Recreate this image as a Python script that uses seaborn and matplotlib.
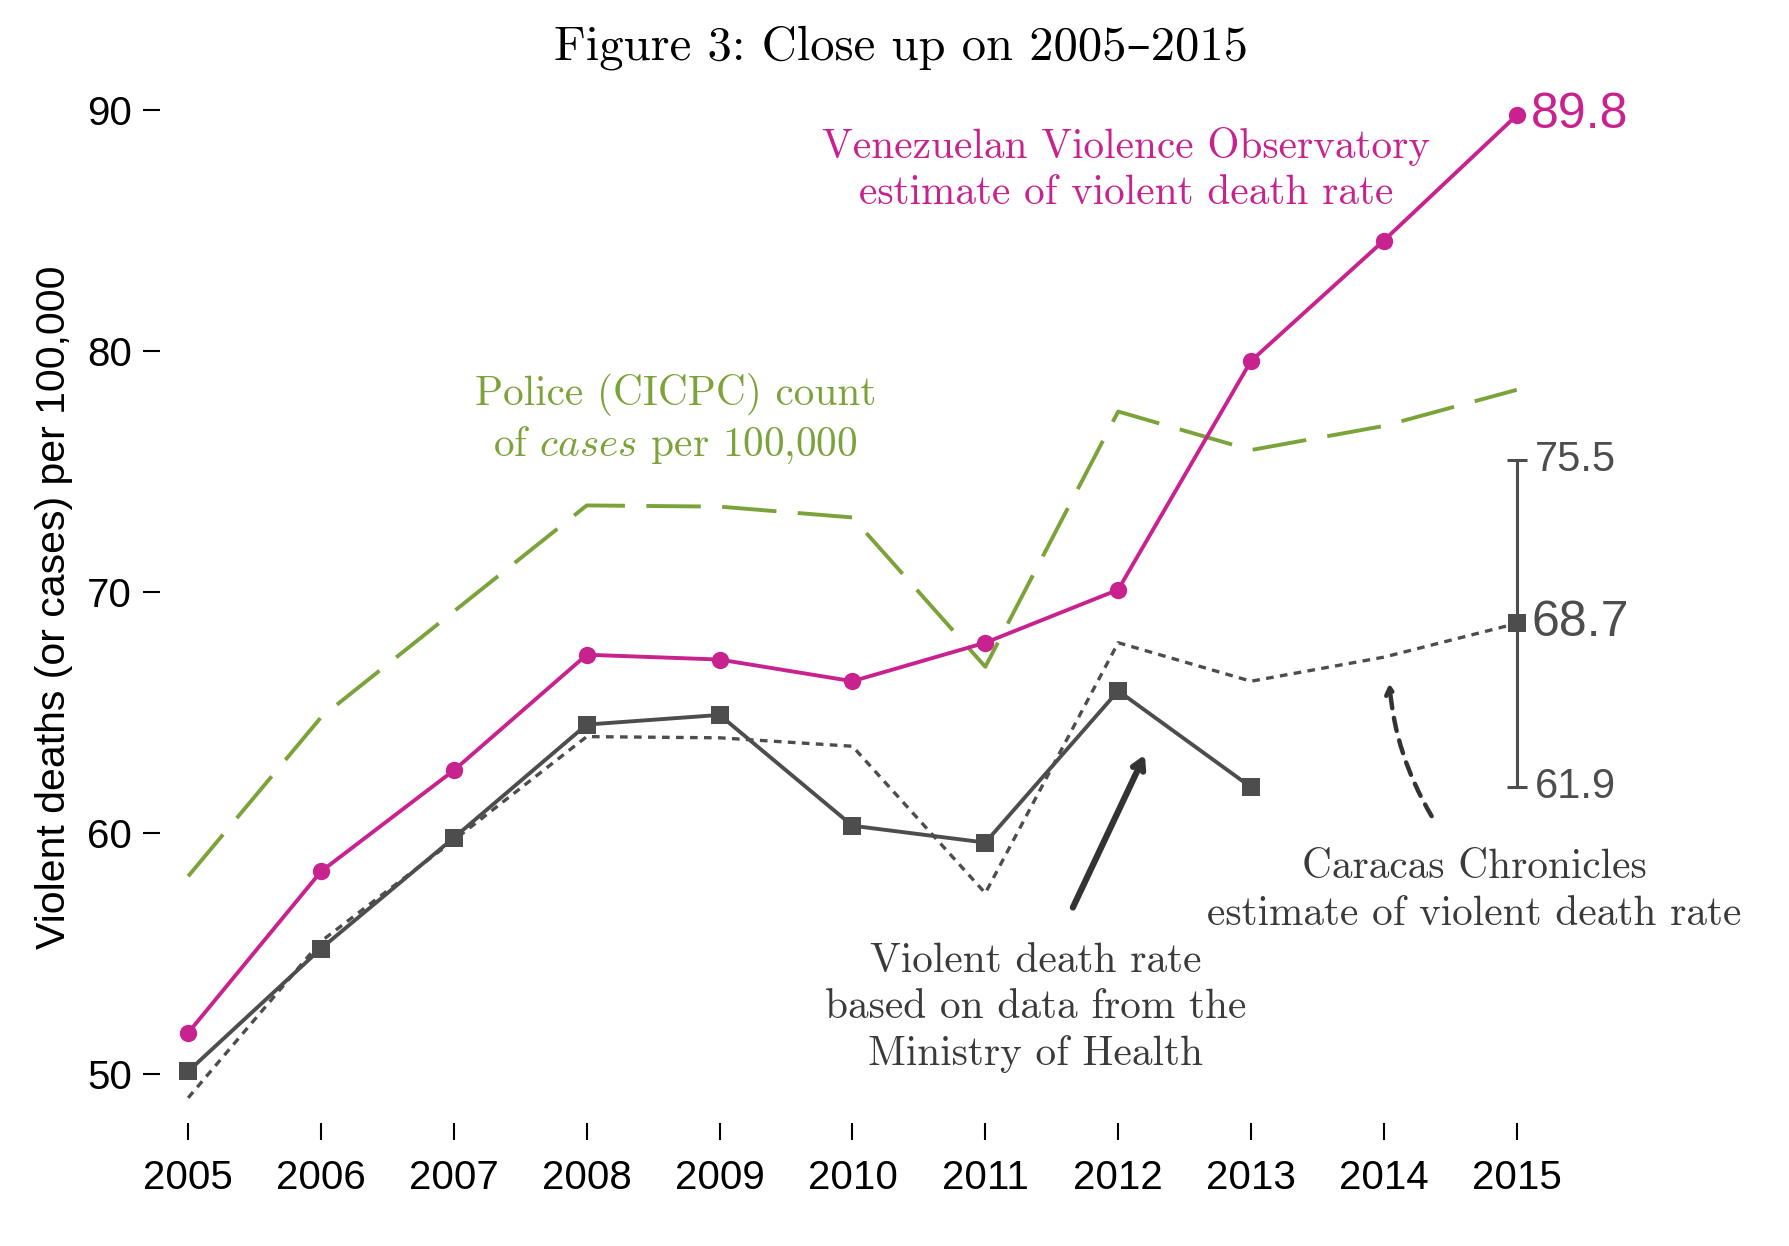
import matplotlib
matplotlib.use("Agg")
import matplotlib.pyplot as plt
import seaborn as sns
import pandas as pd

# %%
years = list(range(2005, 2016))
ovv_rate = [51.7, 58.4, 62.6, 67.4, 67.2, 66.3, 67.9, 70.1, 79.6, 84.6, 89.8]
police_cases = [58.2, 64.8, 69.2, 73.6, 73.55, 73.1, 66.9, 77.5, 75.9, 76.9, 78.4]
moh_years = list(range(2005, 2014))
moh_rate = [50.1, 55.2, 59.8, 64.5, 64.9, 60.3, 59.6, 65.9, 61.9]
cc_rate = [49.0, 55.5, 59.7, 64.0, 63.95, 63.6, 57.5, 67.9, 66.3, 67.3, 68.7]
cc_low, cc_mid, cc_high = 61.9, 68.7, 75.5

pink = "#c8228f"
green = "#7ba33a"
grey = "#4d4d4d"
text_grey = "#3a3a3a"

sns.set_style("white")
plt.rcParams["font.family"] = ["Liberation Sans", "DejaVu Sans"]
plt.rcParams["mathtext.fontset"] = "cm"
plt.rcParams["text.color"] = "black"
plt.rcParams["axes.labelcolor"] = "black"
plt.rcParams["xtick.color"] = "black"
plt.rcParams["ytick.color"] = "black"
serif = ["cmr10", "DejaVu Serif"]

fig = plt.figure(figsize=(17.89, 12.46), dpi=100)
ax = fig.add_axes([0.0892, 0.0988, 0.8923, 0.828])

# %%
sns.lineplot(x=years, y=police_cases, color=green, lw=2.8,
             linestyle=(0, (14, 5.5)), ax=ax)
sns.lineplot(x=years, y=cc_rate, color=grey, lw=2.4,
             linestyle=(0, (2.3, 1.9)), ax=ax)
sns.lineplot(x=moh_years, y=moh_rate, color=grey, lw=2.8, marker="s",
             markersize=12.5, markeredgewidth=0, ax=ax)
sns.lineplot(x=years, y=ovv_rate, color=pink, lw=2.8, marker="o",
             markersize=12.5, markeredgewidth=0, ax=ax)

# range for Caracas Chronicles 2015 estimate
ax.errorbar([2015], [cc_mid], yerr=[[cc_mid - cc_low], [cc_high - cc_mid]],
            fmt="none", ecolor=grey, elinewidth=2.2, capsize=7, capthick=2.2)
ax.plot([2015], [cc_mid], "s", color=grey, ms=12.5, mew=0)

# end labels
ax.text(2015.11, ovv_rate[-1], "89.8", color=pink, fontsize=36,
        va="center", ha="left")
ax.text(2015.11, cc_mid, "68.7", color=grey, fontsize=36,
        va="center", ha="left")
ax.text(2015.14, cc_high, "75.5", color=grey, fontsize=30,
        va="center", ha="left")
ax.text(2015.14, cc_low, "61.9", color=grey, fontsize=30,
        va="center", ha="left")

# %%
# annotations
ax.text(2012.06, 87.54, "Venezuelan Violence Observatory\nestimate of violent death rate",
        color=pink, fontsize=29.7, family=serif, ha="center", va="center",
        linespacing=1.3)
ax.text(2008.67, 77.17, "Police (CICPC) count\nof $\\mathit{cases}$ per 100,000",
        color=green, fontsize=29.7, family=serif, ha="center", va="center",
        linespacing=1.3)
ax.text(2011.38, 52.75, "Violent death rate\nbased on data from the\nMinistry of Health",
        color=text_grey, fontsize=29.7, family=serif, ha="center", va="center",
        linespacing=1.3)
ax.text(2014.68, 57.6, "Caracas Chronicles\nestimate of violent death rate",
        color=text_grey, fontsize=29.7, family=serif, ha="center", va="center",
        linespacing=1.3)

ax.annotate("", xy=(2012.21, 63.35), xytext=(2011.65, 56.8),
            arrowprops=dict(arrowstyle="->,head_length=0.7,head_width=0.4",
                            color="#333333", lw=4.5))
ax.annotate("", xy=(2014.04, 66.33), xytext=(2014.37, 60.6),
            arrowprops=dict(arrowstyle="->,head_length=0.55,head_width=0.3",
                            color="#333333", lw=3.2, linestyle=(0, (3, 2.2)),
                            connectionstyle="arc3,rad=-0.12"))

# %%
ax.set_xlim(2004.785, 2016.8)
ax.set_ylim(47.96, 90.8)
ax.set_xticks(years)
ax.set_yticks([50, 60, 70, 80, 90])
ax.tick_params(axis="both", which="major", labelsize=29, length=12,
               width=1.5, color="black", labelcolor="black", left=True,
               bottom=True, pad=8)
ax.tick_params(axis="x", pad=14)
sns.despine(ax=ax, left=True, bottom=True)
ax.set_ylabel("Violent deaths (or cases) per 100,000", fontsize=29.5,
              labelpad=10, color="black")

fig.text(0.5035, 0.962, "Figure 3: Close up on 2005\u20132015", fontsize=35,
         family=serif, ha="center", va="center", color="black")

fig.savefig("out.png", dpi=100)
